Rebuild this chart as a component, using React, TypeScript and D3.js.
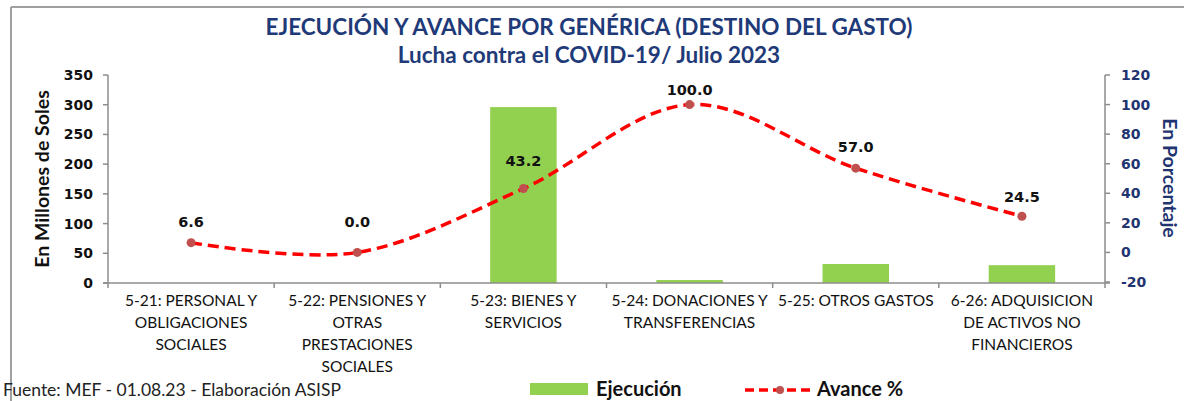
import React from "react";
import * as d3 from "d3";

const categories = [
  ["5-21: PERSONAL Y", "OBLIGACIONES", "SOCIALES"],
  ["5-22: PENSIONES Y", "OTRAS", "PRESTACIONES", "SOCIALES"],
  ["5-23: BIENES Y", "SERVICIOS"],
  ["5-24: DONACIONES Y", "TRANSFERENCIAS"],
  ["5-25: OTROS GASTOS"],
  ["6-26: ADQUISICION", "DE ACTIVOS NO", "FINANCIEROS"],
];
const ejecucion = [0, 0, 296, 5, 32, 30];
const avance = [6.6, 0.0, 43.2, 100.0, 57.0, 24.5];
const leftTicks = [0, 50, 100, 150, 200, 250, 300, 350];
const rightTicks = [-20, 0, 20, 40, 60, 80, 100, 120];

// label vertical offsets (layout only)
const labelDy = [-21, -30, -28, -15, -21, -19];

const W = 1184;
const H = 401;
const plot = { left: 108, right: 1105, top: 75, bottom: 283 };
const navy = "#1f3470";
const titleNavy = "#1f3a78";
const axisGrey = "#8c8c8c";

export default function App() {
  const idx = categories.map((_, i) => i);
  const x = d3.scaleBand<number>().domain(idx).range([plot.left, plot.right]).paddingInner(0).paddingOuter(0);
  const yL = d3.scaleLinear().domain([0, 350]).range([plot.bottom, plot.top]);
  const yR = d3.scaleLinear().domain([-20, 120]).range([plot.bottom - 1, plot.top]);
  const bw = x.bandwidth() * 0.4;
  const cx = (i: number) => (x(i) as number) + x.bandwidth() / 2;

  const line = d3
    .line<number>()
    .x((_, i) => cx(i))
    .y((d) => yR(d))
    .curve(d3.curveCatmullRom.alpha(0));
  const pathD = line(avance) || "";

  const boundaries = d3.range(categories.length + 1).map((i) => plot.left + i * x.bandwidth());

  return (
    <svg width={W} height={H} style={{ position: "absolute", left: 0, top: 0, background: "#fff" }}>
      <rect x={0} y={0} width={W} height={H} fill="#fff" />
      {/* frame */}
      <line x1={11} y1={7} x2={W} y2={7} stroke="#a0a0a0" strokeWidth={2} />
      <line x1={11} y1={7} x2={11} y2={H} stroke="#a0a0a0" strokeWidth={2} />

      {/* title */}
      <text x={589} y={35} textAnchor="middle" fontFamily="Lato" fontWeight="bold" fontSize={22.5} fill={titleNavy}>
        EJECUCIÓN Y AVANCE POR GENÉRICA (DESTINO DEL GASTO)
      </text>
      <text x={589} y={63} textAnchor="middle" fontFamily="Lato" fontWeight="bold" fontSize={22.5} fill={titleNavy}>
        Lucha contra el COVID-19/  Julio 2023
      </text>

      {/* bars */}
      {ejecucion.map((v, i) => (
        <rect key={i} x={cx(i) - bw / 2} y={yL(v)} width={bw} height={plot.bottom - yL(v)} fill="#92d050" />
      ))}

      {/* axes */}
      <line x1={plot.left} y1={plot.top} x2={plot.left} y2={plot.bottom} stroke={axisGrey} strokeWidth={1.5} />
      <line x1={plot.right} y1={plot.top} x2={plot.right} y2={plot.bottom} stroke={axisGrey} strokeWidth={1.5} />
      <line x1={plot.left - 5} y1={plot.bottom} x2={plot.right + 5} y2={plot.bottom} stroke={axisGrey} strokeWidth={1.5} />
      {leftTicks.map((t) => (
        <g key={"l" + t}>
          <line x1={plot.left - 5} x2={plot.left} y1={yL(t)} y2={yL(t)} stroke={axisGrey} strokeWidth={1.5} />
          <text x={93} y={yL(t) + 5} textAnchor="end" fontFamily="DejaVu Sans" fontWeight="bold" fontSize={14} fill="#111">
            {t}
          </text>
        </g>
      ))}
      {rightTicks.map((t) => (
        <g key={"r" + t}>
          <line x1={plot.right} x2={plot.right + 5} y1={yR(t)} y2={yR(t)} stroke={axisGrey} strokeWidth={1.5} />
          <text x={1121} y={yR(t) + 5} textAnchor="start" fontFamily="DejaVu Sans" fontWeight="bold" fontSize={14} fill={navy}>
            {t}
          </text>
        </g>
      ))}
      {boundaries.map((b, i) => (
        <line key={"b" + i} x1={b} x2={b} y1={plot.bottom} y2={plot.bottom + 5} stroke={axisGrey} strokeWidth={1.5} />
      ))}

      {/* axis titles */}
      <text
        transform="translate(49,179) rotate(-90)"
        textAnchor="middle"
        fontFamily="Lato"
        fontWeight="bold"
        fontSize={19.5}
        fill="#111"
      >
        En Millones de Soles
      </text>
      <text
        transform="translate(1163,178) rotate(90)"
        textAnchor="middle"
        fontFamily="Lato"
        fontWeight="bold"
        fontSize={19.5}
        fill={navy}
      >
        En Porcentaje
      </text>

      {/* category labels */}
      {categories.map((lines, i) => (
        <text key={"c" + i} textAnchor="middle" fontFamily="Lato" fontSize={15.5} fill="#111">
          {lines.map((ln, j) => (
            <tspan key={j} x={cx(i)} y={306 + j * 22}>
              {ln}
            </tspan>
          ))}
        </text>
      ))}

      {/* line */}
      <path d={pathD} fill="none" stroke="#ff0000" strokeWidth={3.5} strokeDasharray="11 6" />
      {avance.map((v, i) => (
        <circle key={"m" + i} cx={cx(i)} cy={yR(v)} r={4.5} fill="#c0504d" />
      ))}
      {avance.map((v, i) => (
        <text key={"t" + i} x={cx(i)} y={yR(v) + labelDy[i] + 5} textAnchor="middle" fontFamily="DejaVu Sans" fontWeight="bold" fontSize={14.5} fill="#111">
          {v.toFixed(1)}
        </text>
      ))}

      {/* footer */}
      <text x={3} y={396} fontFamily="Lato" fontSize={17.5} fill="#222">
        Fuente: MEF - 01.08.23 - Elaboración ASISP
      </text>

      {/* legend */}
      <rect x={530} y={383} width={58} height={12} fill="#92d050" />
      <text x={596} y={396} fontFamily="Lato" fontWeight="bold" fontSize={20} fill="#111">
        Ejecución
      </text>
      <line x1={745} y1={390} x2={812} y2={390} stroke="#ff0000" strokeWidth={3.5} strokeDasharray="9 5" />
      <circle cx={780} cy={390} r={4} fill="#c0504d" />
      <text x={817} y={396} fontFamily="Lato" fontWeight="bold" fontSize={20} fill="#111">
        Avance %
      </text>
    </svg>
  );
}
